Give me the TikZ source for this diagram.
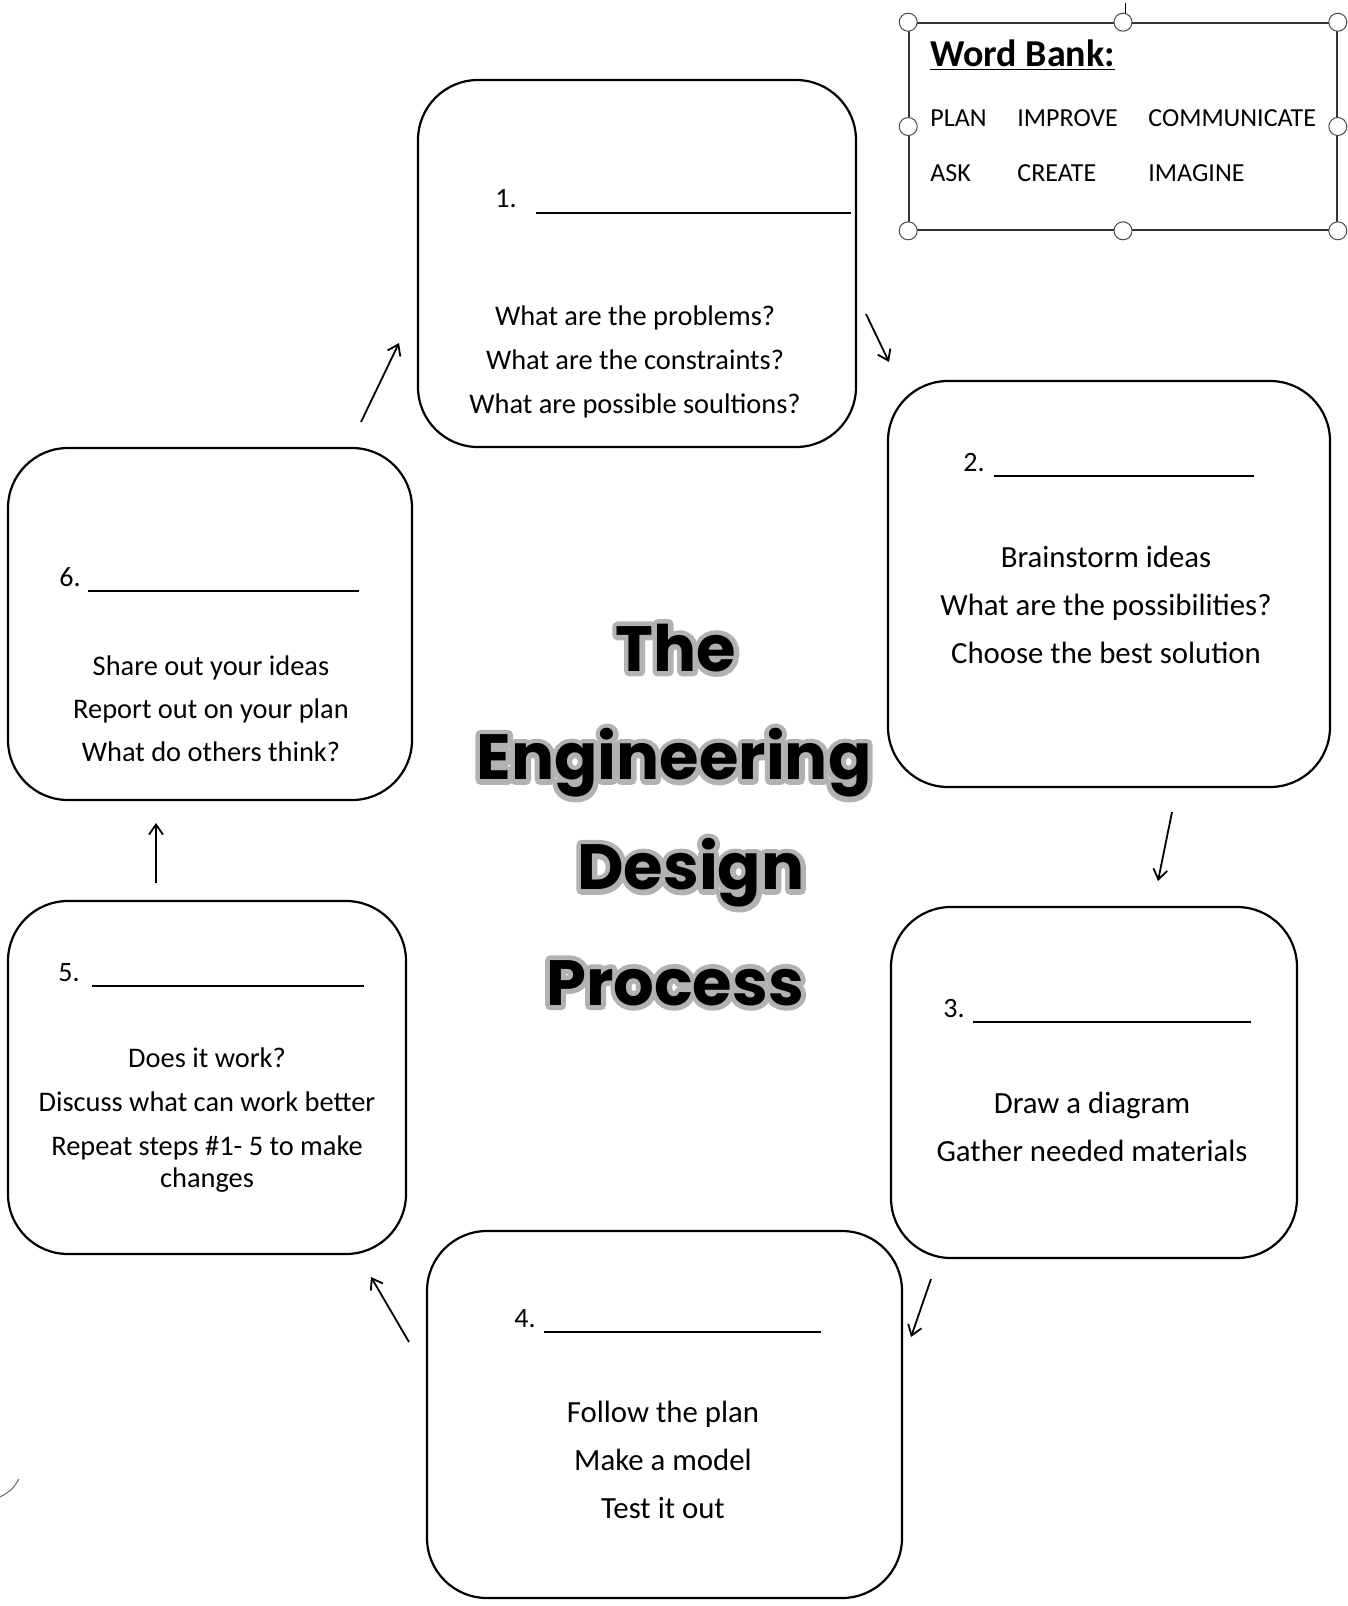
\documentclass[tikz,border=0pt]{standalone}
\usepackage{fontspec}
\setmainfont{Carlito}
\newfontfamily\titlefont{Poppins}
\usepackage{tikz}
\usetikzlibrary{arrows.meta}
% grey halo behind the title letters
\newcommand\halotxt[1]{\special{pdf:literal direct 1 Tr 1 j 5 w 0.7 G}#1\special{pdf:literal direct 0 Tr 0 G}}

\begin{document}
\begin{tikzpicture}[x=0.5pt,y=-0.5pt,
    stepbox/.style={draw, line width=1.1pt, rounded corners=30pt, inner sep=0pt},
    numlbl/.style={font=\fontsize{14}{16}\selectfont, anchor=base west, inner sep=0pt},
    blank/.style={line width=0.9pt},
    qtext/.style={font=\fontsize{14.2}{22}\selectfont, align=center, inner sep=0pt},
    qbig/.style={font=\fontsize{15.4}{24}\selectfont, align=center, inner sep=0pt},
    flow/.style={-{Straight Barb[length=5pt,width=7pt]}, line width=0.9pt},
    titletext/.style={font=\titlefont\bfseries\fontsize{32}{32}\selectfont, inner sep=0pt},
    bankbox/.style={draw=black!80, line width=0.8pt, inner sep=0pt, minimum width=214pt, minimum height=103.5pt},
    handle/.style={draw=black!70, fill=white, line width=0.5pt},
    bankword/.style={font=\fontsize{13}{13}\selectfont, anchor=west, inner sep=0pt}]
  \useasboundingbox (0,0) rectangle (1348,1606);

  % the six steps
  \node[stepbox, minimum width=219pt, minimum height=183.5pt] (b1) at (637,263.5) {};
  \node[stepbox, minimum width=221pt, minimum height=203pt] (b2) at (1109,584) {};
  \node[stepbox, minimum width=203pt, minimum height=175.5pt] (b3) at (1094,1082.5) {};
  \node[stepbox, minimum width=237.5pt, minimum height=183.5pt] (b4) at (664.5,1414.5) {};
  \node[stepbox, minimum width=199pt, minimum height=176.5pt] (b5) at (207,1077.5) {};
  \node[stepbox, minimum width=202pt, minimum height=176pt] (b6) at (210,624) {};

  \node[numlbl] (n1) at (495,207) {1.};
  \draw[blank] (536,213) -- (851,213);
  \node[numlbl] (n2) at (963,471) {2.};
  \draw[blank] (994,476) -- (1254,476);
  \node[numlbl] (n3) at (943,1017) {3.};
  \draw[blank] (973,1022) -- (1251,1022);
  \node[numlbl] (n4) at (514,1327) {4.};
  \draw[blank] (544,1332) -- (821,1332);
  \node[numlbl] (n5) at (58,981) {5.};
  \draw[blank] (92,986) -- (364,986);
  \node[numlbl] (n6) at (59,586) {6.};
  \draw[blank] (88,591) -- (359,591);

  \node[qtext] (q1) at (635,362) {What are the problems?\\What are the constraints?\\What are possible soultions?};
  \node[qbig] (q2) at (1106,605) {Brainstorm ideas\\What are the possibilities?\\Choose the best solution};
  \node[qbig] (q3) at (1092,1127) {Draw a diagram\\Gather needed materials};
  \node[qbig] (q4) at (663,1460) {Follow the plan\\Make a model\\Test it out};
  \node[qtext] (q5) at (207,1120) {Does it work?\\Discuss what can work better\\Repeat steps \#1- 5 to make\\[-6pt]changes};
  \node[qtext, font=\fontsize{14.2}{21.5}\selectfont] (q6) at (211,709) {Share out your ideas\\Report out on your plan\\What do others think?};

  % arrows between the boxes
  \coordinate (s12) at (866,314);
  \coordinate (e12) at (889,362);
  \coordinate (s23) at (1172,812);
  \coordinate (e23) at (1158,881);
  \coordinate (s34) at (931,1279);
  \coordinate (e34) at (911,1337);
  \coordinate (s45) at (409,1342);
  \coordinate (e45) at (371,1277);
  \coordinate (s56) at (156,883);
  \coordinate (e56) at (156,823);
  \coordinate (s61) at (361,422);
  \coordinate (e61) at (399,343);
  \draw[flow] (s12) -- (e12);
  \draw[flow] (s23) -- (e23);
  \draw[flow] (s34) -- (e34);
  \draw[flow] (s45) -- (e45);
  \draw[flow] (s56) -- (e56);
  \draw[flow] (s61) -- (e61);

  % word bank
  \node[bankbox] (bank) at (1123,126.5) {};
  \draw[line width=0.5pt] (1125,3) -- (1125,14);
  \foreach \a in {north west,north,north east,west,east,south west,south,south east}
    \draw[handle] (bank.\a) circle[radius=4.5pt];
  \node[font=\bfseries\fontsize{19}{19}\selectfont, anchor=base west, inner sep=0pt] (wb) at (930,66) {\underline{Word Bank:}};
  \node[bankword] (w1) at (930,118) {PLAN};
  \node[bankword] (w2) at (1017,118) {IMPROVE};
  \node[bankword] (w3) at (1148,118) {COMMUNICATE};
  \node[bankword] (w4) at (930,173) {ASK};
  \node[bankword] (w5) at (1017,173) {CREATE};
  \node[bankword] (w6) at (1148,173) {IMAGINE};

  \draw[black!60, line width=0.5pt] (19,1479) .. controls (12,1490) .. (0,1497);

  % title: halo first, letters on top
  \node[titletext] (h1) at (676,648) {\halotxt{The}};
  \node[titletext] (h2) at (674,763) {\halotxt{Engineering}};
  \node[titletext] (h3) at (691,873) {\halotxt{Design}};
  \node[titletext] (h4) at (675,983) {\halotxt{Process}};
  \node[titletext] (t1) at (h1) {The};
  \node[titletext] (t2) at (h2) {Engineering};
  \node[titletext] (t3) at (h3) {Design};
  \node[titletext] (t4) at (h4) {Process};
\end{tikzpicture}
\end{document}
